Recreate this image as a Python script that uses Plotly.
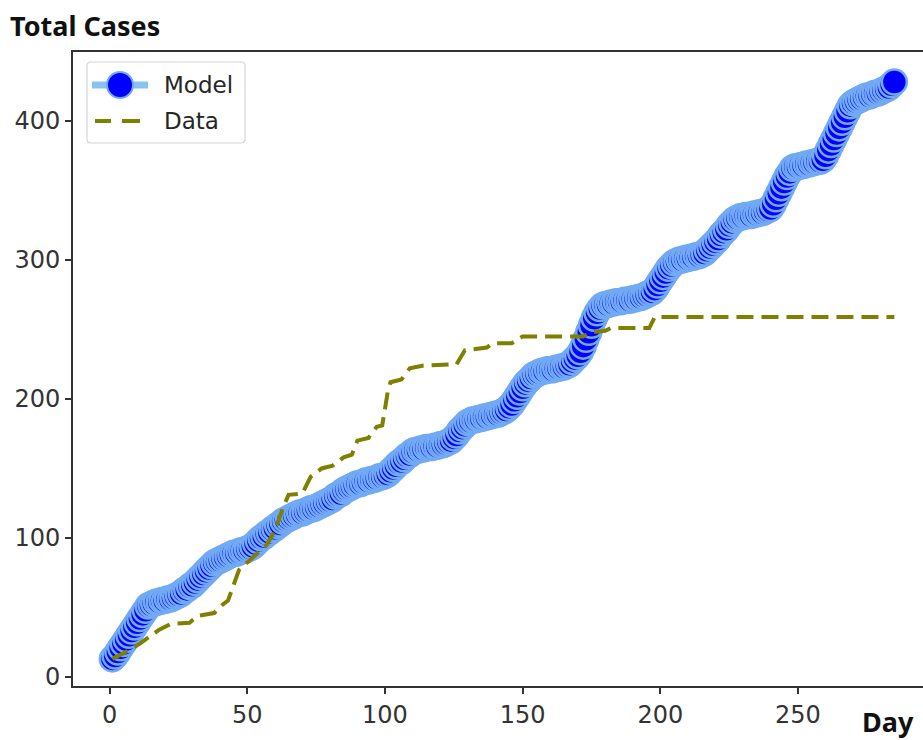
import plotly.graph_objects as go

# Model output: cumulative cases for each day 1..285
model_cases = [
    13, 15, 18, 21, 24, 27, 30, 33, 36, 39, 42, 45, 48, 51,
    52, 53, 54, 54, 55, 55, 56, 56, 57, 58, 59,
    60, 62, 63, 65, 66, 68, 70, 72, 74, 76, 78, 80, 82, 83,
    84, 85, 86, 87, 88, 89, 89, 90, 91, 91, 92, 93, 94,
    96, 98, 100, 101, 103, 104, 106, 107, 109, 110, 112, 113, 114,
    115, 116, 117, 118, 118, 119, 120, 121, 121, 122, 123, 124, 125, 126,
    127, 128, 130, 131, 132, 134, 135, 136, 137, 138, 139, 139, 140,
    141, 141, 142, 142, 143, 144, 144, 145, 146,
    148, 150, 152, 154, 155, 157, 159, 160, 162,
    163, 163, 164, 164, 165, 165, 165, 166, 166, 167, 167, 168, 169, 170,
    172, 174, 177, 179, 181, 183, 184,
    185, 185, 186, 186, 187, 187, 188, 188, 189, 189, 190, 191, 192, 194,
    196, 199, 202, 205, 208, 211, 213, 215, 217, 218, 219,
    220, 220, 221, 221, 221, 222, 222, 223, 223, 224, 225, 227,
    229, 231, 234, 238, 243, 248, 253, 258, 262, 265, 267, 268,
    268, 269, 269, 270, 270, 270, 271, 271, 271, 272, 272, 273, 273, 274, 275, 276,
    277, 279, 282, 285, 288, 291, 294, 296, 298, 299,
    300, 300, 301, 301, 302, 302, 303, 303, 304, 305,
    307, 309, 311, 313, 315, 318, 320, 322, 325, 327, 329, 330,
    331, 331, 332, 332, 332, 333, 333, 334, 334, 335, 336, 337,
    340, 344, 348, 352, 356, 360, 363, 366,
    367, 367, 368, 368, 369, 369, 370, 370, 371, 371, 372,
    375, 379, 383, 387, 391, 395, 399, 403, 407, 411,
    413, 414, 415, 416, 417, 418, 418, 419, 420, 420, 421, 422, 423, 424, 426, 428,
]
model_days = list(range(1, len(model_cases) + 1))

# Reported cumulative cases
data_days = [1, 5, 11, 18, 22, 29, 32, 38, 41, 43, 47, 52, 57, 60, 63, 65, 70,
             73, 77, 81, 85, 88, 90, 94, 97, 99, 101, 102, 106, 109, 114, 126,
             129, 137, 139, 146, 150, 172, 175, 180, 182, 196, 198, 285]
data_cases = [13, 17, 24, 34, 38, 39, 44, 46, 52, 55, 77, 86, 95, 105, 122, 131, 132,
              144, 150, 152, 158, 160, 170, 172, 180, 181, 205, 212, 214, 222, 224, 225,
              235, 237, 240, 240, 245, 245, 248, 249, 251, 251, 259, 259]

x_ticks = [0, 50, 100, 150, 200, 250]
y_ticks = [0, 100, 200, 300, 400]

W, H = 923, 740
L, R, T, B = 73, 0, 52, 54
PW, PH = W - L - R, H - T - B

MODEL_FACE = "#0000ff"
MODEL_EDGE = "#72aaf4"
MODEL_LINE = "#86c2f2"
DATA_COLOR = "#7f7f00"
FONT = "DejaVu Sans"


def px(xp):
    return (xp - L) / PW


def py(yp):
    return (H - B - yp) / PH


fig = go.Figure()
fig.add_trace(go.Scatter(
    x=model_days, y=model_cases, mode="lines+markers", name="Model",
    line=dict(color=MODEL_LINE, width=6),
    marker=dict(size=25, color=MODEL_FACE, line=dict(color=MODEL_EDGE, width=2.5)),
    showlegend=False,
))
fig.add_trace(go.Scatter(
    x=data_days, y=data_cases, mode="lines", name="Data",
    line=dict(color=DATA_COLOR, width=4, dash="17px,8px"),
    showlegend=False,
))

# Legend box drawn by hand so the symbols keep their full size
shapes = [
    dict(type="path", xref="paper", yref="paper",
         path=("M {a},{b} L {c},{b} Q {d},{b} {d},{e} L {d},{f} Q {d},{g} {c},{g} "
               "L {a},{g} Q {h},{g} {h},{f} L {h},{e} Q {h},{b} {a},{b} Z").format(
             a=px(91), c=px(241), d=px(245), h=px(87),
             b=py(62), e=py(66), f=py(139), g=py(143)),
         line=dict(color="#d4d4d4", width=1.2), fillcolor="rgba(255,255,255,0.85)"),
    dict(type="line", xref="paper", yref="paper",
         x0=px(92), x1=px(148), y0=py(85), y1=py(85),
         line=dict(color=MODEL_LINE, width=7)),
    dict(type="circle", xref="paper", yref="paper",
         x0=px(107), x1=px(133), y0=py(98), y1=py(72),
         fillcolor=MODEL_FACE, line=dict(color=MODEL_EDGE, width=2)),
    dict(type="line", xref="paper", yref="paper",
         x0=px(95), x1=px(111), y0=py(121), y1=py(121),
         line=dict(color=DATA_COLOR, width=4)),
    dict(type="line", xref="paper", yref="paper",
         x0=px(122), x1=px(140), y0=py(121), y1=py(121),
         line=dict(color=DATA_COLOR, width=4)),
]

annotations = [
    dict(text="Model", xref="paper", yref="paper", x=px(162), y=py(85),
         xanchor="left", yanchor="middle", showarrow=False,
         font=dict(family=FONT, size=23, color="#262626")),
    dict(text="Data", xref="paper", yref="paper", x=px(162), y=py(121),
         xanchor="left", yanchor="middle", showarrow=False,
         font=dict(family=FONT, size=23, color="#262626")),
    dict(text="<b>Total Cases</b>", xref="paper", yref="paper", x=px(8), y=py(25),
         xanchor="left", yanchor="middle", showarrow=False,
         font=dict(family="Noto Sans", size=27, color="#111111")),
    dict(text="<b>Day</b>", xref="paper", yref="paper", x=px(888), y=py(721),
         xanchor="center", yanchor="middle", showarrow=False,
         font=dict(family="Noto Sans", size=27, color="#111111")),
]

fig.update_layout(
    width=W, height=H,
    margin=dict(l=L, r=R, t=T, b=B),
    paper_bgcolor="white", plot_bgcolor="white",
    shapes=shapes, annotations=annotations,
    showlegend=False,
    xaxis=dict(
        range=[-13.3, 295.4], tickvals=x_ticks, ticktext=[str(v) for v in x_ticks],
        showgrid=False, zeroline=False, showline=True, linecolor="#333333", linewidth=2,
        mirror=True, ticks="outside", ticklen=6, tickwidth=1.5, tickcolor="#333333",
        tickfont=dict(family=FONT, size=24, color="#333333"),
    ),
    yaxis=dict(
        range=[-6.5, 449.6], tickvals=y_ticks, ticktext=[str(v) for v in y_ticks],
        showgrid=False, zeroline=False, showline=True, linecolor="#333333", linewidth=2,
        mirror=False, ticks="outside", ticklen=6, tickwidth=1.5, tickcolor="#333333",
        tickfont=dict(family=FONT, size=24, color="#333333"),
    ),
)

fig.write_html("out.html")
